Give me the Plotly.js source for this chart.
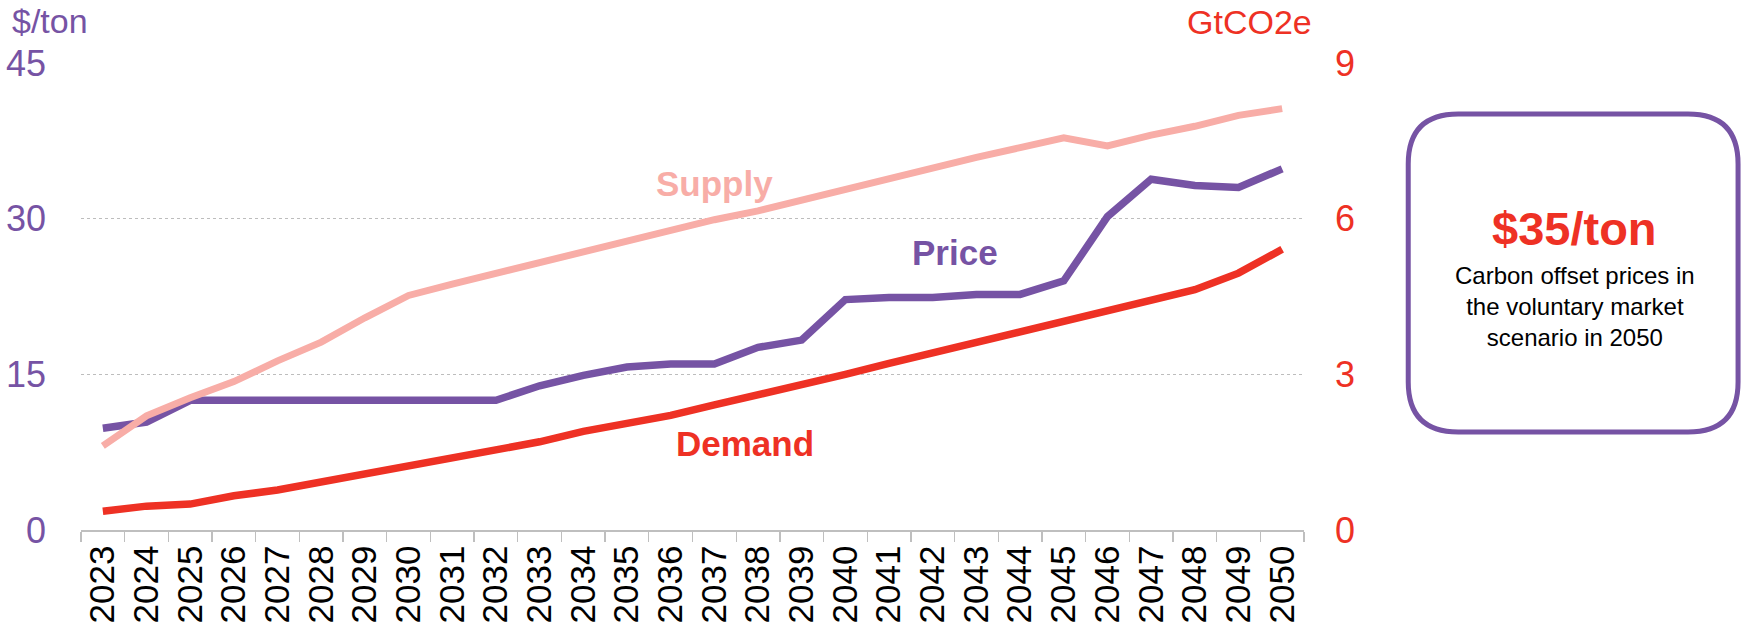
<!DOCTYPE html>
<html>
<head>
<meta charset="utf-8">
<script src="https://cdn.plot.ly/plotly-3.0.1.min.js"></script>
<style>
  html, body { margin: 0; padding: 0; background: #ffffff; }
  #chart { width: 1744px; height: 632px; }
</style>
</head>
<body>
<div id="chart"></div>
<script>
// ---- Data ----
const years = ['2023','2024','2025','2026','2027','2028','2029','2030','2031','2032',
               '2033','2034','2035','2036','2037','2038','2039','2040','2041','2042',
               '2043','2044','2045','2046','2047','2048','2049','2050'];
// Price ($/ton, left axis)
const price = [9.8, 10.4, 12.5, 12.5, 12.5, 12.5, 12.5, 12.5, 12.5, 12.5,
               13.9, 14.9, 15.7, 16.0, 16.0, 17.6, 18.3, 22.2, 22.4, 22.4,
               22.7, 22.7, 24.0, 30.2, 33.8, 33.2, 33.0, 34.8];
// Supply (GtCO2e, right axis)
const supply = [1.62, 2.20, 2.55, 2.86, 3.26, 3.62, 4.09, 4.52, 4.74, 4.95,
                5.14, 5.36, 5.57, 5.79, 5.98, 6.15, 6.36, 6.58, 6.77, 6.98,
                7.18, 7.37, 7.56, 7.40, 7.61, 7.78, 7.99, 8.12];
// Demand (GtCO2e, right axis)
const demand = [0.36, 0.46, 0.50, 0.66, 0.77, 0.92, 1.08, 1.23, 1.38, 1.54,
                1.70, 1.90, 2.05, 2.21, 2.41, 2.60, 2.79, 3.00, 3.21, 3.41,
                3.60, 3.81, 4.00, 4.21, 4.41, 4.63, 4.95, 5.41];

const leftTicks = [0, 15, 30, 45];
const rightTicks = [0, 3, 6, 9];

// ---- Styling ----
const PURPLE = '#7653A4';
const PINK = '#F8ADA7';
const RED = '#EE3124';
const GRID = '#BDBDBD';
const FONT = 'Liberation Sans, Arial, Helvetica, sans-serif';

const W = 1744, H = 632;
const L = 80.5, R = 1304.2, T = 63.4, B = 530.5;
const px = x => (x - L) / (R - L);
const py = y => (B - y) / (B - T);

// rounded box path in paper coords
function roundedBox(x0, y0, x1, y1, r) {
  const p = (x, y) => px(x).toFixed(5) + ',' + py(y).toFixed(5);
  return 'M' + p(x0 + r, y0) +
    ' L' + p(x1 - r, y0) + ' Q' + p(x1, y0) + ' ' + p(x1, y0 + r) +
    ' L' + p(x1, y1 - r) + ' Q' + p(x1, y1) + ' ' + p(x1 - r, y1) +
    ' L' + p(x0 + r, y1) + ' Q' + p(x0, y1) + ' ' + p(x0, y1 - r) +
    ' L' + p(x0, y0 + r) + ' Q' + p(x0, y0) + ' ' + p(x0 + r, y0) + ' Z';
}

const traces = [
  { x: years, y: demand, yaxis: 'y2', mode: 'lines', name: 'Demand',
    line: { color: RED, width: 7.5 }, hoverinfo: 'skip' },
  { x: years, y: price, yaxis: 'y', mode: 'lines', name: 'Price',
    line: { color: PURPLE, width: 7.5 }, hoverinfo: 'skip' },
  { x: years, y: supply, yaxis: 'y2', mode: 'lines', name: 'Supply',
    line: { color: PINK, width: 7 }, hoverinfo: 'skip' }
];

const layout = {
  width: W, height: H,
  margin: { l: L, r: W - R, t: T, b: H - B, pad: 0 },
  paper_bgcolor: '#ffffff',
  plot_bgcolor: '#ffffff',
  showlegend: false,
  font: { family: FONT, color: '#000000' },
  xaxis: {
    type: 'category',
    range: [-0.5, years.length - 0.5],
    tickmode: 'array',
    tickvals: years,
    ticktext: years,
    tickson: 'boundaries',
    ticks: 'outside', ticklen: 10, tickwidth: 1.3, tickcolor: '#BFBFBF',
    showline: true, linecolor: '#BFBFBF', linewidth: 1.5,
    showgrid: false, zeroline: false,
    tickangle: -90,
    tickfont: { family: FONT, size: 35, color: '#000000' },
    fixedrange: true
  },
  yaxis: {
    range: [0, 45],
    tickvals: leftTicks,
    ticktext: leftTicks.map(String),
    ticks: '',
    ticklabelstandoff: 34,
    showgrid: true, gridcolor: GRID, griddash: 'dot', gridwidth: 1.2,
    zeroline: false, showline: false,
    tickfont: { family: FONT, size: 36, color: PURPLE },
    fixedrange: true
  },
  yaxis2: {
    range: [0, 9],
    overlaying: 'y', side: 'right',
    tickvals: rightTicks,
    ticktext: rightTicks.map(String),
    ticks: '',
    ticklabelstandoff: 30,
    showgrid: false, zeroline: false, showline: false,
    tickfont: { family: FONT, size: 36, color: RED },
    fixedrange: true
  },
  shapes: [
    { type: 'path', xref: 'paper', yref: 'paper',
      path: roundedBox(1408.5, 114.5, 1738.5, 432.5, 50),
      line: { color: PURPLE, width: 5 }, fillcolor: 'rgba(0,0,0,0)', layer: 'above' }
  ],
  annotations: [
    { xref: 'paper', yref: 'paper', x: px(90), y: py(21), xanchor: 'right', yanchor: 'middle',
      text: '$/ton', showarrow: false, font: { family: FONT, size: 34, color: PURPLE } },
    { xref: 'paper', yref: 'paper', x: px(1314), y: py(22), xanchor: 'right', yanchor: 'middle',
      text: 'GtCO2e', showarrow: false, font: { family: FONT, size: 34, color: RED } },
    { xref: 'paper', yref: 'paper', x: px(714), y: py(184), xanchor: 'center', yanchor: 'middle',
      text: '<b>Supply</b>', showarrow: false, font: { family: FONT, size: 35, color: PINK } },
    { xref: 'paper', yref: 'paper', x: px(955), y: py(253), xanchor: 'center', yanchor: 'middle',
      text: '<b>Price</b>', showarrow: false, font: { family: FONT, size: 35, color: PURPLE } },
    { xref: 'paper', yref: 'paper', x: px(745), y: py(444), xanchor: 'center', yanchor: 'middle',
      text: '<b>Demand</b>', showarrow: false, font: { family: FONT, size: 35, color: RED } },
    { xref: 'paper', yref: 'paper', x: px(1575), y: py(229), xanchor: 'center', yanchor: 'middle',
      text: '<b>$35/ton</b>', showarrow: false, font: { family: FONT, size: 47, color: RED } },
    { xref: 'paper', yref: 'paper', x: px(1575), y: py(307), xanchor: 'center', yanchor: 'middle',
      text: 'Carbon offset prices in<br>the voluntary market<br>scenario in 2050', align: 'center',
      showarrow: false, font: { family: FONT, size: 24, color: '#000000' } }
  ]
};

Plotly.newPlot('chart', traces, layout, { displayModeBar: false, staticPlot: true });
</script>
</body>
</html>
